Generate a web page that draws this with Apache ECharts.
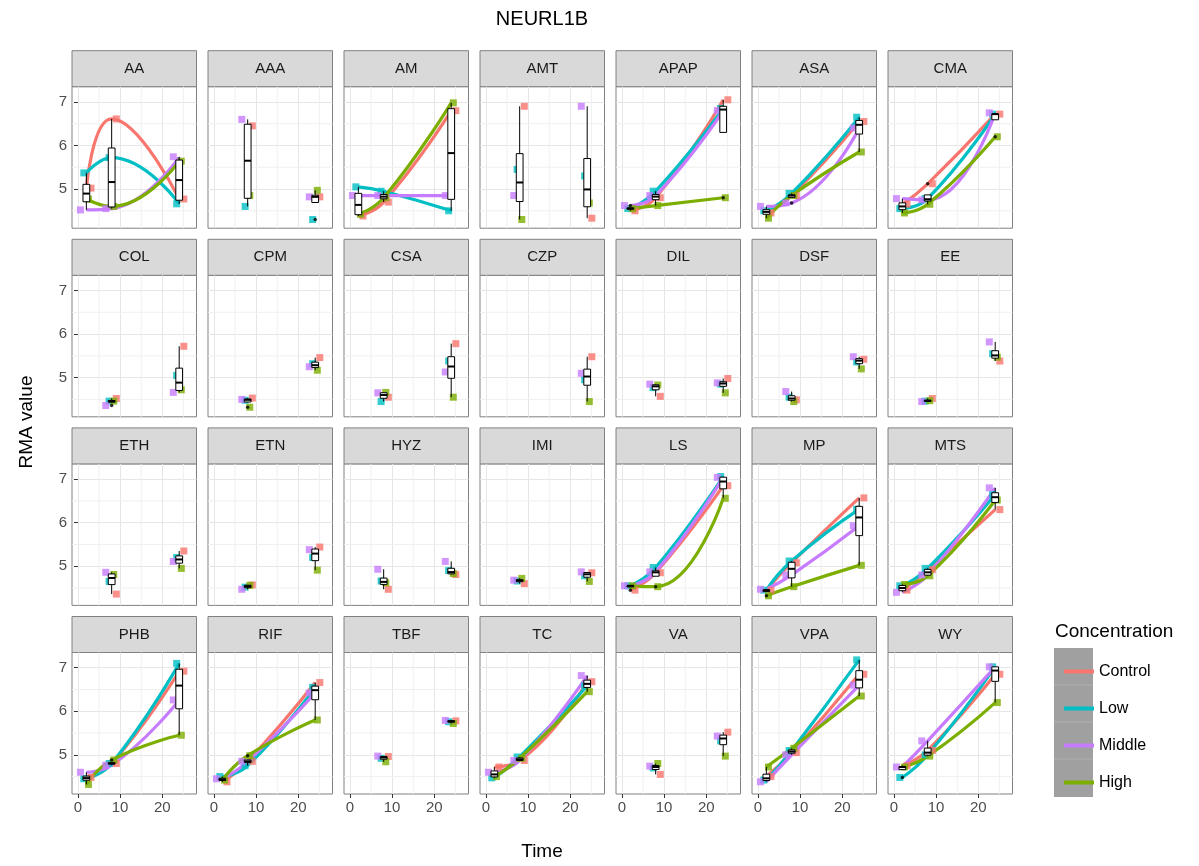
<!DOCTYPE html>
<html>
<head>
<meta charset="utf-8">
<title>NEURL1B</title>
<script src="https://cdn.jsdelivr.net/npm/echarts@6/dist/echarts.min.js"></script>
<style>
  html, body { margin: 0; padding: 0; background: #fff; }
  #chart { width: 1199px; height: 866px; }
</style>
</head>
<body>
<div id="chart"></div>
<script>
// facets, in plot order (7 per row)
var panels = ['AA', 'AAA', 'AM', 'AMT', 'APAP', 'ASA', 'CMA',
              'COL', 'CPM', 'CSA', 'CZP', 'DIL', 'DSF', 'EE',
              'ETH', 'ETN', 'HYZ', 'IMI', 'LS', 'MP', 'MTS',
              'PHB', 'RIF', 'TBF', 'TC', 'VA', 'VPA', 'WY'];

// sampling times in each facet
var panelTimes = [[2, 8, 24], [8, 24], [2, 8, 24], [8, 24], [2, 8, 24], [2, 8, 24], [2, 8, 24],
                  [8, 24], [8, 24], [8, 24], [24], [8, 24], [8, 24], [8, 24],
                  [8, 24], [8, 24], [8, 24], [8, 24], [2, 8, 24], [2, 8, 24], [2, 8, 24],
                  [2, 8, 24], [2, 8, 24], [8, 24], [2, 8, 24], [8, 24], [2, 8, 24], [2, 8, 24]];

// RMA values per concentration, one list per facet (same order as panelTimes)
var control = [[5.02, 6.61, 4.77], [6.45, 4.82], [4.38, 4.7, 6.8], [6.9, 4.33], [4.5, 4.8, 7.05], [4.45, 4.85, 6.55], [4.65, 5.12, 6.72],
               [4.52, 5.72], [4.53, 5.46], [4.55, 5.78], [5.48], [4.57, 4.98], [4.49, 5.42], [4.52, 5.38],
               [4.36, 5.35], [4.57, 5.44], [4.47, 4.81], [4.6, 4.85], [4.45, 4.85, 6.85], [4.45, 5.08, 6.57], [4.45, 4.92, 6.3],
               [4.48, 4.8, 6.92], [4.38, 4.85, 6.66], [4.96, 5.78], [4.72, 4.87, 6.68], [4.55, 5.52], [4.5, 5.05, 6.85], [4.75, 5.1, 6.85]];
var low = [[5.37, 5.72, 4.66], [4.6, 4.3], [5.05, 4.95, 4.5], [5.45, 5.3], [4.55, 4.95, 6.85], [4.5, 4.9, 6.65], [4.55, 4.78, 6.72],
           [4.46, 5.05], [4.48, 5.32], [4.45, 5.38], [4.95], [4.77, 4.85], [4.55, 5.36], [4.46, 5.55],
           [4.65, 5.2], [4.52, 5.2], [4.66, 4.9], [4.66, 4.78], [4.55, 4.97, 7.06], [4.45, 5.12, 6.31], [4.55, 4.95, 6.65],
           [4.45, 4.8, 7.1], [4.5, 4.75, 6.55], [4.92, 5.76], [4.47, 4.95, 6.58], [4.7, 5.32], [4.42, 5.1, 7.18], [4.48, 5.0, 7.02]];
var middle = [[4.52, 4.55, 5.74], [6.6, 4.82], [4.85, 4.85, 4.85], [4.85, 6.9], [4.62, 4.85, 6.8], [4.6, 4.68, 6.4], [4.78, 4.75, 6.75],
              [4.36, 4.66], [4.5, 5.25], [4.65, 5.13], [5.1], [4.85, 4.88], [4.68, 5.48], [4.45, 5.82],
              [4.86, 5.11], [4.47, 5.38], [4.93, 5.11], [4.68, 4.87], [4.55, 4.87, 7.04], [4.47, 4.8, 5.93], [4.4, 4.8, 6.8],
              [4.6, 4.76, 6.26], [4.45, 4.85, 6.42], [4.97, 5.79], [4.6, 4.87, 6.82], [4.74, 5.43], [4.38, 5.0, 6.6], [4.72, 5.32, 7.02]];
var high = [[4.77, 4.6, 5.64], [4.85, 4.97], [4.42, 4.8, 6.98], [4.3, 4.68], [4.55, 4.62, 4.8], [4.33, 4.85, 5.85], [4.45, 4.65, 6.2],
            [4.46, 4.72], [4.32, 5.17], [4.66, 4.55], [4.45], [4.83, 4.65], [4.45, 5.2], [4.47, 5.47],
            [4.81, 4.95], [4.56, 4.91], [4.62, 4.83], [4.72, 4.65], [4.55, 4.53, 6.56], [4.32, 4.53, 5.02], [4.58, 4.78, 6.52],
            [4.32, 4.88, 5.45], [4.42, 4.98, 5.8], [4.84, 5.72], [4.5, 4.92, 6.45], [4.8, 4.97], [4.72, 5.15, 6.35], [4.72, 4.97, 6.2]];

var groups = ['Control', 'Low', 'Middle', 'High'];
var xTicks = [0, 10, 20];
var yTicks = [5, 6, 7];
var xMinor = [5, 15, 25];
var yMinor = [4.5, 5.5, 6.5];

var groupData = [control, low, middle, high];
var colors = ['#F8766D', '#00BFC4', '#C77CFF', '#7CAE00'];
var jitter = [1.1, -0.6, -1.4, 0.5];   // horizontal spread of the points
var font = 'Liberation Sans, Arial, sans-serif';

// quantile, R type 7 (as ggplot's stat_boxplot)
function quantile(s, p) {
    var h = (s.length - 1) * p, lo = Math.floor(h);
    if (lo + 1 >= s.length) return s[lo];
    return s[lo] + (h - lo) * (s[lo + 1] - s[lo]);
}

function boxStats(vals) {
    var s = vals.slice().sort(function (a, b) { return a - b; });
    var q1 = quantile(s, 0.25), med = quantile(s, 0.5), q3 = quantile(s, 0.75);
    var iqr = q3 - q1;
    var inside = s.filter(function (v) { return v >= q1 - 1.5 * iqr && v <= q3 + 1.5 * iqr; });
    var out = s.filter(function (v) { return v < q1 - 1.5 * iqr || v > q3 + 1.5 * iqr; });
    return { lo: inside[0], q1: q1, med: med, q3: q3, hi: inside[inside.length - 1], out: out };
}

var chart = echarts.init(document.getElementById('chart'), null, { renderer: 'canvas' });

var grids = [], xAxes = [], yAxes = [], series = [], graphics = [];
var panelW = 124.5, panelH = 141.5, stripH = 36;

panels.forEach(function (name, i) {
    var r = Math.floor(i / 7), c = i % 7;
    var left = 72 + c * 136, top = 86.7 + r * 188.6;

    grids.push({
        left: left, top: top, width: panelW, height: panelH,
        show: true, backgroundColor: '#ffffff', borderColor: '#808080', borderWidth: 1
    });
    xAxes.push({
        type: 'value', gridIndex: i, min: -1.4, max: 28.1,
        axisLine: { show: false },
        axisTick: { show: r === 3, customValues: xTicks, length: 4, lineStyle: { color: '#333333' } },
        axisLabel: { show: r === 3, customValues: xTicks, color: '#4d4d4d', fontSize: 15, margin: 6, fontFamily: font },
        splitLine: { show: true, lineStyle: { color: '#e6e6e6', width: 1 } }
    });
    yAxes.push({
        type: 'value', gridIndex: i, min: 4.1, max: 7.35,
        axisLine: { show: false },
        axisTick: { show: c === 0, customValues: yTicks, length: 4, lineStyle: { color: '#333333' } },
        axisLabel: { show: c === 0, customValues: yTicks, color: '#4d4d4d', fontSize: 15, margin: 5, fontFamily: font },
        splitLine: { show: true, lineStyle: { color: '#e6e6e6', width: 1 } }
    });

    // minor grid lines
    series.push({
        type: 'custom', xAxisIndex: i, yAxisIndex: i, z: 1, silent: true,
        data: xMinor.map(function (v) { return [v, 5, 0]; }).concat(yMinor.map(function (v) { return [0, v, 1]; })),
        renderItem: function (params, api) {
            var cs = params.coordSys;
            var p = api.coord([api.value(0), api.value(1)]);
            var shape = api.value(2) === 0
                ? { x1: p[0], y1: cs.y, x2: p[0], y2: cs.y + cs.height }
                : { x1: cs.x, y1: p[1], x2: cs.x + cs.width, y2: p[1] };
            return { type: 'line', shape: shape, style: { stroke: '#f0f0f0', lineWidth: 1 } };
        }
    });

    var times = panelTimes[i];

    // smoothed curves (only where three time points exist)
    if (times.length > 2) {
        groupData.forEach(function (gd, g) {
            series.push({
                name: groups[g], type: 'line', xAxisIndex: i, yAxisIndex: i, z: 2,
                smooth: true, showSymbol: false, silent: true,
                data: times.map(function (t, k) { return [t, gd[i][k]]; }),
                lineStyle: { color: colors[g], width: 3.2 },
                itemStyle: { color: colors[g] }
            });
        });
    }

    // points
    groupData.forEach(function (gd, g) {
        series.push({
            name: groups[g], type: 'scatter', xAxisIndex: i, yAxisIndex: i, z: 3,
            symbol: 'rect', symbolSize: 7, silent: true,
            data: times.map(function (t, k) { return [t + jitter[g], gd[i][k]]; }),
            itemStyle: { color: colors[g] }
        });
    });

    // boxplots of the four concentrations at each time
    var boxes = [], outliers = [];
    times.forEach(function (t, k) {
        var st = boxStats(groupData.map(function (gd) { return gd[i][k]; }));
        boxes.push([t, st.lo, st.q1, st.med, st.q3, st.hi]);
        st.out.forEach(function (v) { outliers.push([t, v]); });
    });
    series.push({
        type: 'custom', xAxisIndex: i, yAxisIndex: i, z: 4, silent: true,
        data: boxes,
        encode: { x: 0, y: [1, 2, 3, 4, 5] },
        renderItem: function (params, api) {
            var t = api.value(0);
            var lo = api.coord([t, api.value(1)]), q1 = api.coord([t, api.value(2)]);
            var med = api.coord([t, api.value(3)]), q3 = api.coord([t, api.value(4)]);
            var hi = api.coord([t, api.value(5)]);
            var hw = api.size([1.6, 0])[0] / 2, x = q1[0];
            var st = { stroke: '#000000', lineWidth: 1 };
            return {
                type: 'group', children: [
                    { type: 'line', shape: { x1: x, y1: hi[1], x2: x, y2: q3[1] }, style: st },
                    { type: 'line', shape: { x1: x, y1: q1[1], x2: x, y2: lo[1] }, style: st },
                    { type: 'rect', shape: { x: x - hw, y: q3[1], width: 2 * hw, height: q1[1] - q3[1] },
                      style: { fill: '#ffffff', stroke: '#000000', lineWidth: 1 } },
                    { type: 'line', shape: { x1: x - hw, y1: med[1], x2: x + hw, y2: med[1] },
                      style: { stroke: '#000000', lineWidth: 2 } }
                ]
            };
        }
    });
    if (outliers.length) {
        series.push({
            type: 'scatter', xAxisIndex: i, yAxisIndex: i, z: 5, silent: true,
            symbol: 'circle', symbolSize: 3.5, data: outliers,
            itemStyle: { color: '#000000' }
        });
    }

    // facet strip
    graphics.push({
        type: 'rect', shape: { x: left, y: top - stripH, width: panelW, height: stripH },
        style: { fill: '#d9d9d9', stroke: '#808080', lineWidth: 1 }
    });
    graphics.push({
        type: 'text', x: left + panelW / 2, y: top - stripH / 2,
        style: { text: name, fill: '#1a1a1a', font: '15px ' + font, textAlign: 'center', textVerticalAlign: 'middle' }
    });
});

// title and axis titles
graphics.push({
    type: 'text', x: 542, y: 19,
    style: { text: 'NEURL1B', fill: '#000', font: '20px ' + font, textAlign: 'center', textVerticalAlign: 'middle' }
});
graphics.push({
    type: 'text', x: 542, y: 852,
    style: { text: 'Time', fill: '#000', font: '19px ' + font, textAlign: 'center', textVerticalAlign: 'middle' }
});
graphics.push({
    type: 'text', x: 27, y: 422, rotation: Math.PI / 2,
    style: { text: 'RMA value', fill: '#000', font: '19px ' + font, textAlign: 'center', textVerticalAlign: 'middle' }
});

// legend title and key background
graphics.push({
    type: 'text', x: 1055, y: 632,
    style: { text: 'Concentration', fill: '#000', font: '19px ' + font, textAlign: 'left', textVerticalAlign: 'middle' }
});
graphics.push({
    type: 'rect', shape: { x: 1054, y: 648, width: 39, height: 149 },
    style: { fill: '#a0a0a0' }
});
[685, 722, 759].forEach(function (y) {
    graphics.push({
        type: 'line', shape: { x1: 1054, y1: y, x2: 1093, y2: y },
        style: { stroke: '#b0b0b0', lineWidth: 1 }
    });
});

var option = {
    animation: false,
    textStyle: { fontFamily: font },
    grid: grids,
    xAxis: xAxes,
    yAxis: yAxes,
    series: series,
    legend: {
        data: groups.map(function (g) { return { name: g, icon: 'rect' }; }),
        orient: 'vertical', left: 1059, top: 658,
        itemWidth: 30, itemHeight: 4, itemGap: 20,
        selectedMode: false,
        textStyle: { fontSize: 16, lineHeight: 17, color: '#000', fontFamily: font }
    },
    graphic: graphics
};
chart.setOption(option);
</script>
</body>
</html>
